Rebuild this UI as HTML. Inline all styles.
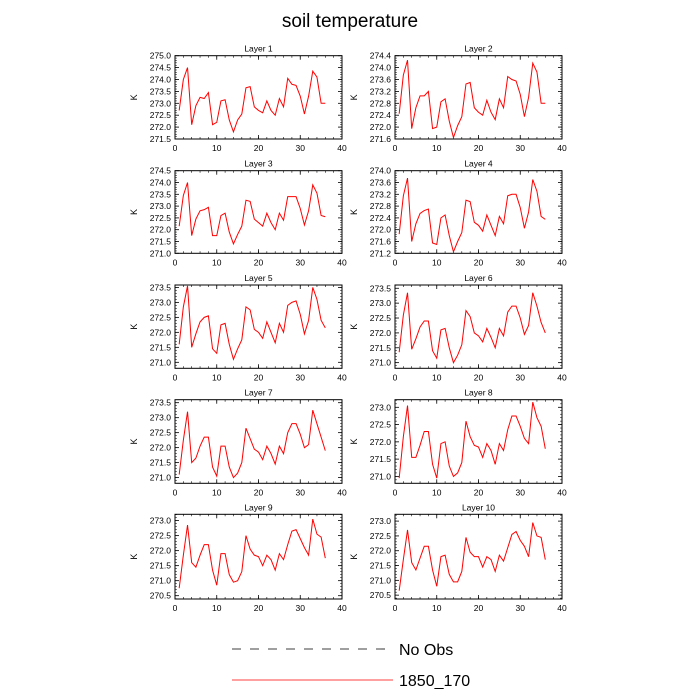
<!DOCTYPE html>
<html><head><meta charset="utf-8"><style>
body{margin:0;background:#fff;}
svg{display:block;font-family:"Liberation Sans",sans-serif;}
</style></head><body>
<svg id="chart" width="700" height="700" viewBox="0 0 700 700">
<text x="350" y="27" text-anchor="middle" font-size="19">soil temperature</text>
<g id="panels"></g>
<g>
<line x1="232" y1="649" x2="393" y2="649" stroke="#000" stroke-width="0.8" stroke-dasharray="9,9"/>
<text x="399" y="655" font-size="16">No Obs</text>
<line x1="232" y1="680" x2="393" y2="680" stroke="#f00" stroke-width="0.8"/>
<text x="399" y="686" font-size="16">1850_170</text>
</g>
</svg>
<script>
const xTicks = [0,10,20,30,40];
const layerNames = ["Layer 1","Layer 2","Layer 3","Layer 4","Layer 5","Layer 6","Layer 7","Layer 8","Layer 9","Layer 10"];
const yMin = [271.5,271.6,271.0,271.2,270.8,270.81,270.81,270.8,270.39,270.37];
const yMax = [275.0,274.4,274.5,274.0,273.58,273.61,273.6,273.22,273.21,273.23];
const yTickStart = [271.5,271.6,271.0,271.2,271.0,271.0,271.0,271.0,270.5,270.5];
const yTickEnd = [275.0,274.4,274.5,274.0,273.5,273.5,273.5,273.0,273.0,273.0];
const yTickStep = [0.5,0.4,0.5,0.4,0.5,0.5,0.5,0.5,0.5,0.5];
const layer1 = [272.7,274.0,274.5,272.1,272.9,273.25,273.2,273.45,272.1,272.2,273.1,273.15,272.3,271.8,272.3,272.55,273.65,273.7,272.85,272.7,272.6,273.1,272.7,272.5,273.2,272.85,274.05,273.8,273.75,273.3,272.55,273.3,274.35,274.1,273.0,273.0];
const layer2 = [272.45,273.75,274.25,271.95,272.65,273.05,273.05,273.2,271.95,272.0,272.85,272.95,272.2,271.65,272.05,272.35,273.45,273.5,272.65,272.5,272.4,272.9,272.5,272.25,272.95,272.65,273.7,273.6,273.55,273.1,272.35,273.0,274.15,273.85,272.8,272.8];
const layer3 = [272.15,273.45,274.0,271.75,272.45,272.8,272.85,272.95,271.75,271.75,272.6,272.7,271.9,271.4,271.8,272.15,273.25,273.2,272.45,272.3,272.15,272.7,272.3,272.0,272.7,272.4,273.4,273.4,273.4,272.9,272.2,272.8,273.9,273.55,272.6,272.55];
const layer4 = [271.85,273.15,273.75,271.6,272.2,272.55,272.65,272.7,271.55,271.5,272.4,272.5,271.8,271.25,271.6,271.9,273.0,272.95,272.25,272.15,271.95,272.5,272.15,271.8,272.45,272.2,273.15,273.2,273.2,272.75,272.05,272.6,273.7,273.3,272.45,272.35];
const layer5 = [271.6,272.85,273.55,271.5,271.95,272.35,272.5,272.55,271.45,271.3,272.25,272.3,271.6,271.1,271.45,271.75,272.85,272.75,272.1,272.0,271.8,272.35,272.0,271.65,272.3,272.0,272.9,273.0,273.05,272.6,271.95,272.4,273.5,273.1,272.4,272.15];
const layer6 = [271.35,272.6,273.35,271.45,271.8,272.2,272.4,272.4,271.4,271.15,272.1,272.15,271.5,271.0,271.25,271.6,272.75,272.55,272.0,271.9,271.7,272.15,271.85,271.5,272.15,271.9,272.7,272.9,272.9,272.5,271.95,272.25,273.35,272.9,272.35,272.0];
const layer7 = [271.1,272.25,273.2,271.5,271.65,272.05,272.35,272.35,271.35,271.05,272.05,272.05,271.35,271.0,271.15,271.5,272.65,272.3,271.95,271.85,271.6,272.05,271.8,271.45,272.05,271.8,272.5,272.8,272.8,272.45,272.0,272.1,273.25,272.8,272.35,271.9];
const layer8 = [270.95,272.15,273.05,271.55,271.55,271.9,272.3,272.3,271.35,270.95,271.95,272.0,271.3,271.0,271.1,271.4,272.6,272.15,271.9,271.85,271.55,271.95,271.75,271.35,271.95,271.75,272.35,272.75,272.75,272.45,272.1,271.95,273.15,272.7,272.45,271.8];
const layer9 = [270.75,271.85,272.85,271.6,271.45,271.85,272.2,272.2,271.35,270.85,271.9,271.9,271.2,270.95,271.0,271.3,272.5,272.05,271.85,271.8,271.5,271.85,271.7,271.35,271.9,271.7,272.2,272.65,272.7,272.4,272.1,271.85,273.05,272.55,272.45,271.75];
const layer10 = [270.65,271.7,272.7,271.6,271.35,271.75,272.15,272.15,271.35,270.8,271.8,271.85,271.2,270.95,270.95,271.3,272.45,271.95,271.8,271.8,271.45,271.8,271.7,271.3,271.85,271.65,272.1,272.55,272.65,272.35,272.15,271.8,272.95,272.5,272.45,271.7];
const allLayers = [layer1,layer2,layer3,layer4,layer5,layer6,layer7,layer8,layer9,layer10];

const NS = "http://www.w3.org/2000/svg";
const root = document.getElementById("panels");
const colX = [[175,342],[395,562]];
const rowY = [[55.7,139],[170.7,253.3],[285,368.3],[399.7,483.3],[514.3,599]];
function mk(tag, attrs, parent){const e=document.createElementNS(NS,tag);for(const k in attrs)e.setAttribute(k,attrs[k]);parent.appendChild(e);return e;}

allLayers.forEach((data,i)=>{
  const [x0,x1] = colX[i%2], [y0,y1] = rowY[Math.floor(i/2)];
  const sx = v => x0 + (v-0)/(40-0)*(x1-x0);
  const sy = v => y1 - (v-yMin[i])/(yMax[i]-yMin[i])*(y1-y0);
  const g = mk("g",{},root);
  
  
  const t = mk("text",{x:(x0+x1)/2,y:y0-4,"text-anchor":"middle","font-size":"8.5"},g);
  
  
  t.textContent = layerNames[i];
  const fr = mk("rect",{x:x0,y:y0,width:x1-x0,height:y1-y0,fill:"none",stroke:"#000","stroke-width":"1"},g);
  
  
  // x ticks
  xTicks.forEach(v=>{
    const x = sx(v);
    mk("line",{x1:x,y1:y1,x2:x,y2:y1-4,stroke:"#000","stroke-width":"0.8"},g);
    mk("line",{x1:x,y1:y0,x2:x,y2:y0+4,stroke:"#000","stroke-width":"0.8"},g);
    const l = mk("text",{x:x,y:y1+12,"text-anchor":"middle","font-size":"8.5"},g);
    
    
    l.textContent = v;
  });
  for(let v=0; v<=40; v+=2){ const x=sx(v);
    mk("line",{x1:x,y1:y1,x2:x,y2:y1-2,stroke:"#000","stroke-width":"0.6"},g);
    mk("line",{x1:x,y1:y0,x2:x,y2:y0+2,stroke:"#000","stroke-width":"0.6"},g);
  }
  // y ticks
  const st = yTickStep[i];
  for(let v=yTickStart[i]; v<=yTickEnd[i]+1e-6; v+=st){
    const y = sy(v);
    mk("line",{x1:x0,y1:y,x2:x0+4,y2:y,stroke:"#000","stroke-width":"0.8"},g);
    mk("line",{x1:x1,y1:y,x2:x1-4,y2:y,stroke:"#000","stroke-width":"0.8"},g);
    const l = mk("text",{x:x0-4,y:y+3,"text-anchor":"end","font-size":"8.5"},g);
    
    
    l.textContent = v.toFixed(1);
  }
  for(let v=yTickStart[i]-st; v<=yMax[i]; v+=st/5){
    if(v<yMin[i]) continue;
    const y=sy(v);
    mk("line",{x1:x0,y1:y,x2:x0+2,y2:y,stroke:"#000","stroke-width":"0.5"},g);
    mk("line",{x1:x1,y1:y,x2:x1-2,y2:y,stroke:"#000","stroke-width":"0.5"},g);
  }
  const k = mk("text",{x:0,y:0,"text-anchor":"middle","font-size":"9",transform:`translate(${x0-38},${(y0+y1)/2}) rotate(-90)`},g);
  
  
  k.textContent = "K";
  const pts = data.map((v,j)=>sx(j+1).toFixed(2)+","+sy(v).toFixed(2)).join(" ");
  const pl = mk("polyline",{points:pts,fill:"none",stroke:"#f00","stroke-width":"1"},g);
  
  
});
</script>
</body></html>
